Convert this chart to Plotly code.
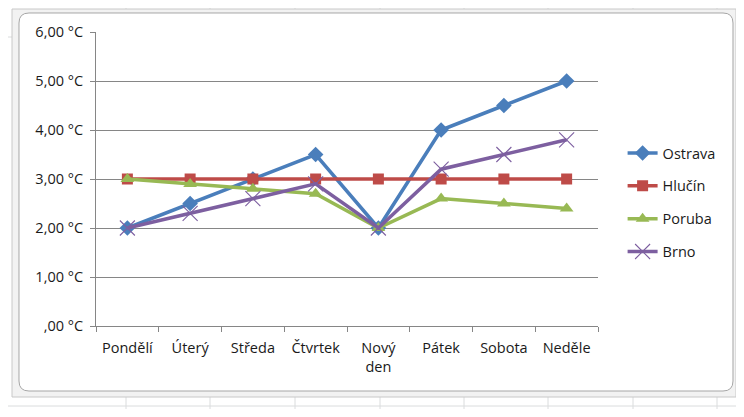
import plotly.graph_objects as go

categories = ["Pondělí", "Úterý", "Středa", "Čtvrtek", "Nový<br>den", "Pátek", "Sobota", "Neděle"]
ostrava = [2.0, 2.5, 3.0, 3.5, 2.0, 4.0, 4.5, 5.0]
hlucin = [3.0, 3.0, 3.0, 3.0, 3.0, 3.0, 3.0, 3.0]
poruba = [3.0, 2.9, 2.8, 2.7, 2.0, 2.6, 2.5, 2.4]
brno = [2.0, 2.3, 2.6, 2.9, 2.0, 3.2, 3.5, 3.8]
y_ticks = [0, 1, 2, 3, 4, 5, 6]
y_labels = [",00 °C", "1,00 °C", "2,00 °C", "3,00 °C", "4,00 °C", "5,00 °C", "6,00 °C"]

# page has an 8px body margin; figure sized to fit the window without scrollbars
O = 8
W, H = 744 - 2 * O, 417 - 2 * O
# plot area in page pixels
L, R, T, B = 96, 598, 32, 326
FONT = "Open Sans"
FS = 14.5

def px(x, y):
    """page pixel -> paper coords"""
    return (x - L) / (R - L), (B - y) / (B - T)

series = [
    ("Ostrava", ostrava, "#4A7EBB", dict(symbol="diamond", size=12)),
    ("Hlučín", hlucin, "#BE4B48", dict(symbol="square", size=11)),
    ("Poruba", poruba, "#98B954", dict(symbol="triangle-up", size=12)),
    ("Brno", brno, "#7D5FA0", dict(symbol="x-thin-open", size=15, line=dict(width=1.1, color="#8E78B0"))),
]

fig = go.Figure()
for name, vals, col, mk in series:
    m = dict(color=col, **mk)
    fig.add_trace(go.Scatter(x=categories, y=vals, name=name, mode="lines+markers",
                             line=dict(color=col, width=3.5), marker=m, legendgroup=name))

shapes = []
# spreadsheet grid in background
for gx in [126, 210, 295, 380, 464, 548, 633, 717]:
    x0, y0 = px(gx, O)
    _, y1 = px(gx, 417 - O)
    shapes.append(dict(type="line", xref="paper", yref="paper", x0=x0, x1=x0, y0=y0, y1=y1,
                       line=dict(color="#DADCDD", width=1), layer="below"))
for gy in [37, 406]:
    x0, yy = px(O, gy)
    x1, _ = px(744 - O, gy)
    shapes.append(dict(type="line", xref="paper", yref="paper", x0=x0, x1=x1, y0=yy, y1=yy,
                       line=dict(color="#DADCDD", width=1), layer="below"))

# outer selection frame
ox0, oy0 = px(12, 9)
ox1, oy1 = px(736, 397)
shapes.append(dict(type="rect", xref="paper", yref="paper", x0=ox0, x1=ox1, y0=oy0, y1=oy1,
                   line=dict(color="#C8C8C8", width=1), fillcolor="#F2F2F2", layer="below"))

# rounded chart frame
fx0, fy0, fx1, fy1, r = 19, 13, 733, 391, 10
def P(x, y):
    a, b = px(x, y)
    return f"{a:.5f},{b:.5f}"
path = (f"M {P(fx0 + r, fy0)} L {P(fx1 - r, fy0)} Q {P(fx1, fy0)} {P(fx1, fy0 + r)} "
        f"L {P(fx1, fy1 - r)} Q {P(fx1, fy1)} {P(fx1 - r, fy1)} "
        f"L {P(fx0 + r, fy1)} Q {P(fx0, fy1)} {P(fx0, fy1 - r)} "
        f"L {P(fx0, fy0 + r)} Q {P(fx0, fy0)} {P(fx0 + r, fy0)} Z")
shapes.append(dict(type="path", xref="paper", yref="paper", path=path,
                   line=dict(color="#A6A6A6", width=1), fillcolor="white", layer="below"))

fig.update_layout(
    width=W, height=H,
    margin=dict(l=L - O, r=W - (R - O), t=T - O, b=H - (B - O)),
    paper_bgcolor="white", plot_bgcolor="rgba(0,0,0,0)",
    font=dict(family=FONT, size=FS, color="#1a1a1a"),
    shapes=shapes,
    showlegend=True,
    legend=dict(x=1.049, xanchor="left", y=0.42, yanchor="middle", tracegroupgap=11,
                font=dict(family=FONT, size=FS, color="#1a1a1a"), bgcolor="rgba(0,0,0,0)",
                itemwidth=30),
    xaxis=dict(type="category", showgrid=False, showline=True, linecolor="#868686", linewidth=1,
               ticks="outside", ticklen=5, tickcolor="#868686", tickson="boundaries",
               tickfont=dict(family=FONT, size=FS), range=[-0.5, 7.5], fixedrange=True,
               ticklabelstandoff=9),
    yaxis=dict(range=[0, 6], tickvals=y_ticks, ticktext=y_labels, showgrid=True,
               gridcolor="#868686", gridwidth=1, showline=True, linecolor="#868686", linewidth=1,
               ticks="outside", ticklen=5, tickcolor="#868686", zeroline=False,
               tickfont=dict(family=FONT, size=FS), ticklabelstandoff=4),
)

fig.write_html("out.html")
